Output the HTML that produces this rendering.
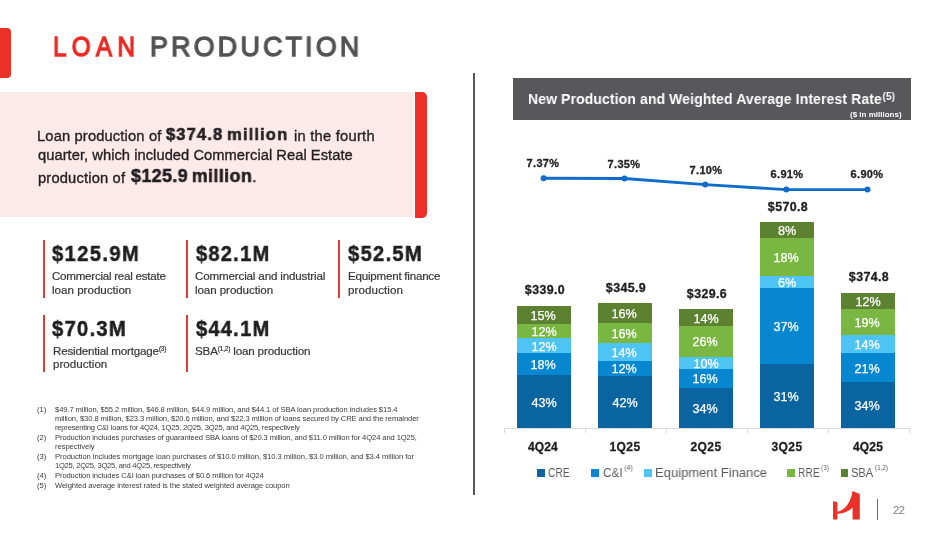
<!DOCTYPE html>
<html><head><meta charset="utf-8"><style>
*{margin:0;padding:0;box-sizing:border-box}
html,body{width:949px;height:534px;overflow:hidden;background:#fff}
body{position:relative;font-family:"Liberation Sans", sans-serif}
.t{position:absolute;line-height:1;white-space:nowrap;will-change:transform}
.r{position:absolute}
sup{font-size:0.55em;vertical-align:0.6em;line-height:0;font-weight:normal}
sup.ls{font-size:0.58em;vertical-align:0.95em;margin-left:2px}
sup.hs{font-size:0.7em;vertical-align:4.5px;margin-left:0.8px;font-weight:bold}
</style></head><body>
<div class="r" style="left:0px;top:27.6px;width:11px;height:50.4px;background:#ea3027;border-radius:0 4px 4px 0;"></div>
<div class="t" id="t_loan" style="left:52.60px;top:32.70px;font-size:28px;color:#ea2a23;font-weight:normal;letter-spacing:5.984px;transform:scaleX(0.8700);transform-origin:left top;-webkit-text-stroke:1.3px #ea2a23;">LOAN</div>
<div class="t" id="t_prod" style="left:149.80px;top:32.70px;font-size:28px;color:#535355;font-weight:normal;letter-spacing:3.310px;transform:scaleX(0.9600);transform-origin:left top;-webkit-text-stroke:1.3px #535355;">PRODUCTION</div>
<div class="r" style="left:0px;top:92.2px;width:414.2px;height:124.4px;background:#fce9ea;"></div>
<div class="r" style="left:415.4px;top:92.2px;width:11.4px;height:125.4px;background:#ea3027;border-radius:0 5px 5px 0;"></div>
<div class="t" id="p1a" style="left:37.00px;top:128.76px;font-size:14.7px;color:#231f20;font-weight:normal;letter-spacing:0.154px;-webkit-text-stroke:0.35px #231f20;">Loan production of</div>
<div class="t" id="p1b" style="left:166.00px;top:126.47px;font-size:17.4px;color:#231f20;font-weight:bold;letter-spacing:1.190px;transform:scaleX(0.9500);transform-origin:left top;-webkit-text-stroke:0.6px #231f20;word-spacing:-2px;">$374.8 million</div>
<div class="t" id="p1c" style="left:294.00px;top:128.76px;font-size:14.7px;color:#231f20;font-weight:normal;letter-spacing:0.250px;-webkit-text-stroke:0.35px #231f20;">in the fourth</div>
<div class="t" id="p2" style="left:38.00px;top:148.26px;font-size:14.7px;color:#231f20;font-weight:normal;letter-spacing:0.046px;-webkit-text-stroke:0.35px #231f20;">quarter, which included Commercial Real Estate</div>
<div class="t" id="p3a" style="left:38.00px;top:170.76px;font-size:14.7px;color:#231f20;font-weight:normal;letter-spacing:0.173px;-webkit-text-stroke:0.35px #231f20;">production of</div>
<div class="t" id="p3b" style="left:131.00px;top:167.33px;font-size:18.75px;color:#231f20;font-weight:bold;letter-spacing:0.477px;transform:scaleX(0.9500);transform-origin:left top;-webkit-text-stroke:0.6px #231f20;word-spacing:-2px;">$125.9 million<span style="font-weight:normal;font-size:14.7px">.</span></div>
<div class="r" style="left:473.4px;top:72.9px;width:1.6px;height:421.7px;background:#585858;"></div>
<div class="r" style="left:43px;top:240.1px;width:1.8px;height:57.5px;background:#e03c36;"></div>
<div class="t" id="s0v" style="left:52.10px;top:243.04px;font-size:22.4px;color:#1e1e1e;font-weight:bold;letter-spacing:1.557px;transform:scaleX(0.9000);transform-origin:left top;-webkit-text-stroke:0.5px #1e1e1e;">$125.9M</div>
<div class="t" id="s0l0" style="left:51.60px;top:269.98px;font-size:11.6px;color:#363636;font-weight:normal;letter-spacing:-0.254px;-webkit-text-stroke:0.2px #363636;">Commercial real estate</div>
<div class="t" id="s0l1" style="left:51.60px;top:283.68px;font-size:11.6px;color:#363636;font-weight:normal;letter-spacing:0.000px;-webkit-text-stroke:0.2px #363636;">loan production</div>
<div class="r" style="left:186.1px;top:240.1px;width:1.8px;height:57.5px;background:#e03c36;"></div>
<div class="t" id="s1v" style="left:195.50px;top:243.04px;font-size:22.4px;color:#1e1e1e;font-weight:bold;letter-spacing:1.333px;transform:scaleX(0.9000);transform-origin:left top;-webkit-text-stroke:0.5px #1e1e1e;">$82.1M</div>
<div class="t" id="s1l0" style="left:195.00px;top:269.98px;font-size:11.6px;color:#363636;font-weight:normal;letter-spacing:-0.157px;-webkit-text-stroke:0.2px #363636;">Commercial and industrial</div>
<div class="t" id="s1l1" style="left:195.00px;top:283.68px;font-size:11.6px;color:#363636;font-weight:normal;letter-spacing:-0.081px;-webkit-text-stroke:0.2px #363636;">loan production</div>
<div class="r" style="left:338.3px;top:240.1px;width:1.8px;height:57.5px;background:#e03c36;"></div>
<div class="t" id="s2v" style="left:347.60px;top:243.04px;font-size:22.4px;color:#1e1e1e;font-weight:bold;letter-spacing:1.423px;transform:scaleX(0.9000);transform-origin:left top;-webkit-text-stroke:0.5px #1e1e1e;">$52.5M</div>
<div class="t" id="s2l0" style="left:347.60px;top:269.98px;font-size:11.6px;color:#363636;font-weight:normal;letter-spacing:-0.228px;-webkit-text-stroke:0.2px #363636;">Equipment finance</div>
<div class="t" id="s2l1" style="left:347.60px;top:283.68px;font-size:11.6px;color:#363636;font-weight:normal;letter-spacing:0.096px;-webkit-text-stroke:0.2px #363636;">production</div>
<div class="r" style="left:43px;top:314.8px;width:1.8px;height:57.5px;background:#e03c36;"></div>
<div class="t" id="s3v" style="left:52.30px;top:317.84px;font-size:22.4px;color:#1e1e1e;font-weight:bold;letter-spacing:1.423px;transform:scaleX(0.9000);transform-origin:left top;-webkit-text-stroke:0.5px #1e1e1e;">$70.3M</div>
<div class="t" id="s3l0" style="left:52.80px;top:344.78px;font-size:11.6px;color:#363636;font-weight:normal;letter-spacing:-0.184px;-webkit-text-stroke:0.2px #363636;">Residential mortgage<sup>(3)</sup></div>
<div class="t" id="s3l1" style="left:52.80px;top:358.48px;font-size:11.6px;color:#363636;font-weight:normal;letter-spacing:0.017px;-webkit-text-stroke:0.2px #363636;">production</div>
<div class="r" style="left:186.1px;top:314.8px;width:1.8px;height:57.5px;background:#e03c36;"></div>
<div class="t" id="s4v" style="left:195.50px;top:317.84px;font-size:22.4px;color:#1e1e1e;font-weight:bold;letter-spacing:1.333px;transform:scaleX(0.9000);transform-origin:left top;-webkit-text-stroke:0.5px #1e1e1e;">$44.1M</div>
<div class="t" id="s4l0" style="left:195.00px;top:344.78px;font-size:11.6px;color:#363636;font-weight:normal;letter-spacing:-0.147px;-webkit-text-stroke:0.2px #363636;">SBA<sup>(1,2)</sup> loan production</div>
<div class="t" id="fnn0" style="left:37.00px;top:406.37px;font-size:7.6px;color:#3a3a3a;font-weight:normal;letter-spacing:0.000px;">(1)</div>
<div class="t" id="fn0" style="left:55.20px;top:406.37px;font-size:7.6px;color:#3a3a3a;font-weight:normal;letter-spacing:-0.086px;">$49.7 million, $55.2 million, $46.8 million, $44.9 million, and $44.1 of SBA loan production includes $15.4</div>
<div class="t" id="fn1" style="left:55.20px;top:415.27px;font-size:7.6px;color:#3a3a3a;font-weight:normal;letter-spacing:-0.087px;">million, $30.8 million, $23.3 million, $20.6 million, and $22.3 million of loans secured by CRE and the remainder</div>
<div class="t" id="fn2" style="left:55.20px;top:424.17px;font-size:7.6px;color:#3a3a3a;font-weight:normal;letter-spacing:-0.201px;">representing C&amp;I loans for 4Q24, 1Q25, 2Q25, 3Q25, and 4Q25, respectively</div>
<div class="t" id="fnn3" style="left:37.00px;top:434.37px;font-size:7.6px;color:#3a3a3a;font-weight:normal;letter-spacing:0.000px;">(2)</div>
<div class="t" id="fn3" style="left:55.20px;top:434.37px;font-size:7.6px;color:#3a3a3a;font-weight:normal;letter-spacing:-0.104px;">Production includes purchases of guaranteed SBA loans of $20.3 million, and $11.0 million for 4Q24 and 1Q25,</div>
<div class="t" id="fn4" style="left:55.20px;top:443.17px;font-size:7.6px;color:#3a3a3a;font-weight:normal;letter-spacing:-0.046px;">respectively</div>
<div class="t" id="fnn5" style="left:37.00px;top:452.87px;font-size:7.6px;color:#3a3a3a;font-weight:normal;letter-spacing:0.000px;">(3)</div>
<div class="t" id="fn5" style="left:55.20px;top:452.87px;font-size:7.6px;color:#3a3a3a;font-weight:normal;letter-spacing:-0.056px;">Production includes mortgage loan purchases of $10.0 million, $10.3 million, $3.0 million, and $3.4 million for</div>
<div class="t" id="fn6" style="left:55.20px;top:462.07px;font-size:7.6px;color:#3a3a3a;font-weight:normal;letter-spacing:-0.264px;">1Q25, 2Q25, 3Q25, and 4Q25, respectively</div>
<div class="t" id="fnn7" style="left:37.00px;top:472.17px;font-size:7.6px;color:#3a3a3a;font-weight:normal;letter-spacing:0.000px;">(4)</div>
<div class="t" id="fn7" style="left:55.20px;top:472.17px;font-size:7.6px;color:#3a3a3a;font-weight:normal;letter-spacing:-0.104px;">Production includes C&amp;I loan purchases of $0.6 million for 4Q24</div>
<div class="t" id="fnn8" style="left:37.00px;top:481.67px;font-size:7.6px;color:#3a3a3a;font-weight:normal;letter-spacing:0.000px;">(5)</div>
<div class="t" id="fn8" style="left:55.20px;top:481.67px;font-size:7.6px;color:#3a3a3a;font-weight:normal;letter-spacing:-0.079px;">Weighted average interest rated is the stated weighted average coupon</div>
<div class="r" style="left:513px;top:77.7px;width:398px;height:42.6px;background:#58585b;"></div>
<div class="t" id="hdr" style="left:527.80px;top:91.40px;font-size:15px;color:#ffffff;font-weight:bold;letter-spacing:0.139px;transform:scaleX(0.9300);transform-origin:left top;">New Production and Weighted Average Interest Rate<sup class="hs">(5)</sup></div>
<div class="t" id="hdr2" style="right:47.00px;top:110.73px;font-size:8px;color:#ffffff;font-weight:bold;letter-spacing:0.000px;">($ in millions)</div>
<div class="r" style="left:516.60px;top:305.79px;width:54px;height:122.21px;background:#5c8130;"></div>
<div class="r" style="left:516.60px;top:323.71px;width:54px;height:104.29px;background:#7ab742;"></div>
<div class="r" style="left:516.60px;top:338.43px;width:54px;height:89.57px;background:#4ec4f4;"></div>
<div class="r" style="left:516.60px;top:353.15px;width:54px;height:74.85px;background:#0787d0;"></div>
<div class="r" style="left:516.60px;top:375.24px;width:54px;height:52.76px;background:#0a649f;"></div>
<div class="t" id="b00" style="left:343.90px;width:400px;text-align:center;top:396.55px;font-size:12.6px;color:#ffffff;font-weight:normal;letter-spacing:0.000px;-webkit-text-stroke:0.25px #fff;">43%</div>
<div class="t" id="b01" style="left:343.40px;width:400px;text-align:center;top:359.13px;font-size:12.6px;color:#ffffff;font-weight:normal;letter-spacing:0.000px;-webkit-text-stroke:0.25px #fff;">18%</div>
<div class="t" id="b02" style="left:343.90px;width:400px;text-align:center;top:340.73px;font-size:12.6px;color:#ffffff;font-weight:normal;letter-spacing:0.000px;-webkit-text-stroke:0.25px #fff;">12%</div>
<div class="t" id="b03" style="left:343.90px;width:400px;text-align:center;top:326.00px;font-size:12.6px;color:#ffffff;font-weight:normal;letter-spacing:0.000px;-webkit-text-stroke:0.25px #fff;">12%</div>
<div class="t" id="b04" style="left:342.90px;width:400px;text-align:center;top:309.68px;font-size:12.6px;color:#ffffff;font-weight:normal;letter-spacing:0.000px;-webkit-text-stroke:0.25px #fff;">15%</div>
<div class="t" id="tot0" style="left:344.70px;width:400px;text-align:center;top:284.29px;font-size:12.4px;color:#1e1e1e;font-weight:bold;letter-spacing:0.400px;-webkit-text-stroke:0.3px #1e1e1e;">$339.0</div>
<div class="t" id="cat0" style="left:343.20px;width:400px;text-align:center;top:440.84px;font-size:12px;color:#1e1e1e;font-weight:bold;letter-spacing:0.130px;-webkit-text-stroke:0.3px #1e1e1e;">4Q24</div>
<div class="r" style="left:597.60px;top:303.30px;width:54px;height:124.70px;background:#5c8130;"></div>
<div class="r" style="left:597.60px;top:323.20px;width:54px;height:104.80px;background:#7ab742;"></div>
<div class="r" style="left:597.60px;top:343.16px;width:54px;height:84.84px;background:#4ec4f4;"></div>
<div class="r" style="left:597.60px;top:360.63px;width:54px;height:67.37px;background:#0787d0;"></div>
<div class="r" style="left:597.60px;top:375.60px;width:54px;height:52.40px;background:#0a649f;"></div>
<div class="t" id="b10" style="left:424.90px;width:400px;text-align:center;top:396.73px;font-size:12.6px;color:#ffffff;font-weight:normal;letter-spacing:0.000px;-webkit-text-stroke:0.25px #fff;">42%</div>
<div class="t" id="b11" style="left:424.40px;width:400px;text-align:center;top:363.05px;font-size:12.6px;color:#ffffff;font-weight:normal;letter-spacing:0.000px;-webkit-text-stroke:0.25px #fff;">12%</div>
<div class="t" id="b12" style="left:424.40px;width:400px;text-align:center;top:346.83px;font-size:12.6px;color:#ffffff;font-weight:normal;letter-spacing:0.000px;-webkit-text-stroke:0.25px #fff;">14%</div>
<div class="t" id="b13" style="left:423.90px;width:400px;text-align:center;top:328.12px;font-size:12.6px;color:#ffffff;font-weight:normal;letter-spacing:0.000px;-webkit-text-stroke:0.25px #fff;">16%</div>
<div class="t" id="b14" style="left:423.90px;width:400px;text-align:center;top:308.19px;font-size:12.6px;color:#ffffff;font-weight:normal;letter-spacing:0.000px;-webkit-text-stroke:0.25px #fff;">16%</div>
<div class="t" id="tot1" style="left:425.70px;width:400px;text-align:center;top:281.81px;font-size:12.4px;color:#1e1e1e;font-weight:bold;letter-spacing:0.400px;-webkit-text-stroke:0.3px #1e1e1e;">$345.9</div>
<div class="t" id="cat1" style="left:424.70px;width:400px;text-align:center;top:440.84px;font-size:12px;color:#1e1e1e;font-weight:bold;letter-spacing:0.464px;-webkit-text-stroke:0.3px #1e1e1e;">1Q25</div>
<div class="r" style="left:678.60px;top:309.18px;width:54px;height:118.82px;background:#5c8130;"></div>
<div class="r" style="left:678.60px;top:326.05px;width:54px;height:101.95px;background:#7ab742;"></div>
<div class="r" style="left:678.60px;top:356.87px;width:54px;height:71.13px;background:#4ec4f4;"></div>
<div class="r" style="left:678.60px;top:368.73px;width:54px;height:59.27px;background:#0787d0;"></div>
<div class="r" style="left:678.60px;top:387.69px;width:54px;height:40.31px;background:#0a649f;"></div>
<div class="t" id="b20" style="left:504.90px;width:400px;text-align:center;top:402.78px;font-size:12.6px;color:#ffffff;font-weight:normal;letter-spacing:0.000px;-webkit-text-stroke:0.25px #fff;">34%</div>
<div class="t" id="b21" style="left:505.40px;width:400px;text-align:center;top:373.14px;font-size:12.6px;color:#ffffff;font-weight:normal;letter-spacing:0.000px;-webkit-text-stroke:0.25px #fff;">16%</div>
<div class="t" id="b22" style="left:505.90px;width:400px;text-align:center;top:357.73px;font-size:12.6px;color:#ffffff;font-weight:normal;letter-spacing:0.000px;-webkit-text-stroke:0.25px #fff;">10%</div>
<div class="t" id="b23" style="left:504.90px;width:400px;text-align:center;top:336.40px;font-size:12.6px;color:#ffffff;font-weight:normal;letter-spacing:0.000px;-webkit-text-stroke:0.25px #fff;">26%</div>
<div class="t" id="b24" style="left:505.90px;width:400px;text-align:center;top:312.55px;font-size:12.6px;color:#ffffff;font-weight:normal;letter-spacing:0.000px;-webkit-text-stroke:0.25px #fff;">14%</div>
<div class="t" id="tot2" style="left:506.70px;width:400px;text-align:center;top:287.68px;font-size:12.4px;color:#1e1e1e;font-weight:bold;letter-spacing:0.400px;-webkit-text-stroke:0.3px #1e1e1e;">$329.6</div>
<div class="t" id="cat2" style="left:505.70px;width:400px;text-align:center;top:440.84px;font-size:12px;color:#1e1e1e;font-weight:bold;letter-spacing:0.466px;-webkit-text-stroke:0.3px #1e1e1e;">2Q25</div>
<div class="r" style="left:759.60px;top:222.23px;width:54px;height:205.77px;background:#5c8130;"></div>
<div class="r" style="left:759.60px;top:238.41px;width:54px;height:189.59px;background:#7ab742;"></div>
<div class="r" style="left:759.60px;top:275.51px;width:54px;height:152.49px;background:#4ec4f4;"></div>
<div class="r" style="left:759.60px;top:287.87px;width:54px;height:140.13px;background:#0787d0;"></div>
<div class="r" style="left:759.60px;top:364.12px;width:54px;height:63.88px;background:#0a649f;"></div>
<div class="t" id="b30" style="left:585.90px;width:400px;text-align:center;top:390.99px;font-size:12.6px;color:#ffffff;font-weight:normal;letter-spacing:0.000px;-webkit-text-stroke:0.25px #fff;">31%</div>
<div class="t" id="b31" style="left:585.90px;width:400px;text-align:center;top:320.93px;font-size:12.6px;color:#ffffff;font-weight:normal;letter-spacing:0.000px;-webkit-text-stroke:0.25px #fff;">37%</div>
<div class="t" id="b32" style="left:586.90px;width:400px;text-align:center;top:276.62px;font-size:12.6px;color:#ffffff;font-weight:normal;letter-spacing:0.000px;-webkit-text-stroke:0.25px #fff;">6%</div>
<div class="t" id="b33" style="left:585.90px;width:400px;text-align:center;top:251.89px;font-size:12.6px;color:#ffffff;font-weight:normal;letter-spacing:0.000px;-webkit-text-stroke:0.25px #fff;">18%</div>
<div class="t" id="b34" style="left:586.90px;width:400px;text-align:center;top:225.25px;font-size:12.6px;color:#ffffff;font-weight:normal;letter-spacing:0.000px;-webkit-text-stroke:0.25px #fff;">8%</div>
<div class="t" id="tot3" style="left:587.70px;width:400px;text-align:center;top:200.73px;font-size:12.4px;color:#1e1e1e;font-weight:bold;letter-spacing:0.400px;-webkit-text-stroke:0.3px #1e1e1e;">$570.8</div>
<div class="t" id="cat3" style="left:586.70px;width:400px;text-align:center;top:440.84px;font-size:12px;color:#1e1e1e;font-weight:bold;letter-spacing:0.464px;-webkit-text-stroke:0.3px #1e1e1e;">3Q25</div>
<div class="r" style="left:840.60px;top:292.88px;width:54px;height:135.12px;background:#5c8130;"></div>
<div class="r" style="left:840.60px;top:308.78px;width:54px;height:119.22px;background:#7ab742;"></div>
<div class="r" style="left:840.60px;top:334.52px;width:54px;height:93.48px;background:#4ec4f4;"></div>
<div class="r" style="left:840.60px;top:353.49px;width:54px;height:74.51px;background:#0787d0;"></div>
<div class="r" style="left:840.60px;top:381.94px;width:54px;height:46.06px;background:#0a649f;"></div>
<div class="t" id="b40" style="left:666.90px;width:400px;text-align:center;top:399.90px;font-size:12.6px;color:#ffffff;font-weight:normal;letter-spacing:0.000px;-webkit-text-stroke:0.25px #fff;">34%</div>
<div class="t" id="b41" style="left:666.90px;width:400px;text-align:center;top:362.65px;font-size:12.6px;color:#ffffff;font-weight:normal;letter-spacing:0.000px;-webkit-text-stroke:0.25px #fff;">21%</div>
<div class="t" id="b42" style="left:667.40px;width:400px;text-align:center;top:338.94px;font-size:12.6px;color:#ffffff;font-weight:normal;letter-spacing:0.000px;-webkit-text-stroke:0.25px #fff;">14%</div>
<div class="t" id="b43" style="left:666.90px;width:400px;text-align:center;top:316.59px;font-size:12.6px;color:#ffffff;font-weight:normal;letter-spacing:0.000px;-webkit-text-stroke:0.25px #fff;">19%</div>
<div class="t" id="b44" style="left:667.90px;width:400px;text-align:center;top:295.77px;font-size:12.6px;color:#ffffff;font-weight:normal;letter-spacing:0.000px;-webkit-text-stroke:0.25px #fff;">12%</div>
<div class="t" id="tot4" style="left:668.70px;width:400px;text-align:center;top:271.39px;font-size:12.4px;color:#1e1e1e;font-weight:bold;letter-spacing:0.400px;-webkit-text-stroke:0.3px #1e1e1e;">$374.8</div>
<div class="t" id="cat4" style="left:668.20px;width:400px;text-align:center;top:440.84px;font-size:12px;color:#1e1e1e;font-weight:bold;letter-spacing:0.133px;-webkit-text-stroke:0.3px #1e1e1e;">4Q25</div>
<div class="r" style="left:503.6px;top:427.8px;width:405px;height:1px;background:#d9d9d9;"></div>
<div class="r" style="left:503.6px;top:428px;width:1px;height:4.7px;background:#d9d9d9;"></div>
<div class="r" style="left:584.6px;top:428px;width:1px;height:4.7px;background:#d9d9d9;"></div>
<div class="r" style="left:665.6px;top:428px;width:1px;height:4.7px;background:#d9d9d9;"></div>
<div class="r" style="left:746.6px;top:428px;width:1px;height:4.7px;background:#d9d9d9;"></div>
<div class="r" style="left:827.6px;top:428px;width:1px;height:4.7px;background:#d9d9d9;"></div>
<div class="r" style="left:908.6px;top:428px;width:1px;height:4.7px;background:#d9d9d9;"></div>
<svg class="r" style="left:0;top:0" width="949" height="534" viewBox="0 0 949 534"><polyline fill="none" stroke="#0f6cca" stroke-width="2.9" points="543.6,178.2 624.5,178.5 705.2,184.6 786.3,189.6 867.5,189.6"/><circle cx="543.6" cy="178.2" r="3" fill="#0f6cca"/><circle cx="624.5" cy="178.5" r="3" fill="#0f6cca"/><circle cx="705.2" cy="184.6" r="3" fill="#0f6cca"/><circle cx="786.3" cy="189.6" r="3" fill="#0f6cca"/><circle cx="867.5" cy="189.6" r="3" fill="#0f6cca"/></svg>
<div class="t" id="lab0" style="left:343.30px;width:400px;text-align:center;top:158.39px;font-size:11px;color:#1e1e1e;font-weight:bold;letter-spacing:0.350px;-webkit-text-stroke:0.3px #1e1e1e;">7.37%</div>
<div class="t" id="lab1" style="left:424.25px;width:400px;text-align:center;top:158.79px;font-size:11px;color:#1e1e1e;font-weight:bold;letter-spacing:0.350px;-webkit-text-stroke:0.3px #1e1e1e;">7.35%</div>
<div class="t" id="lab2" style="left:505.70px;width:400px;text-align:center;top:164.99px;font-size:11px;color:#1e1e1e;font-weight:bold;letter-spacing:0.350px;-webkit-text-stroke:0.3px #1e1e1e;">7.10%</div>
<div class="t" id="lab3" style="left:586.55px;width:400px;text-align:center;top:169.49px;font-size:11px;color:#1e1e1e;font-weight:bold;letter-spacing:0.350px;-webkit-text-stroke:0.3px #1e1e1e;">6.91%</div>
<div class="t" id="lab4" style="left:667.30px;width:400px;text-align:center;top:169.49px;font-size:11px;color:#1e1e1e;font-weight:bold;letter-spacing:0.350px;-webkit-text-stroke:0.3px #1e1e1e;">6.90%</div>
<div class="r" style="left:537.4px;top:469.3px;width:7.8px;height:7.8px;background:#0a649f;"></div>
<div class="t" id="lg0" style="left:548.00px;top:466.13px;font-size:13.2px;color:#595959;font-weight:normal;letter-spacing:0.000px;transform:scaleX(0.7794);transform-origin:left top;">CRE</div>
<div class="r" style="left:591.1px;top:469.3px;width:7.8px;height:7.8px;background:#0787d0;"></div>
<div class="t" id="lg1" style="left:602.80px;top:466.13px;font-size:13.2px;color:#595959;font-weight:normal;letter-spacing:0.000px;transform:scaleX(0.8893);transform-origin:left top;">C&amp;I<sup class="ls">(4)</sup></div>
<div class="r" style="left:643.8px;top:469.3px;width:7.8px;height:7.8px;background:#4ec4f4;"></div>
<div class="t" id="lg2" style="left:655.00px;top:466.13px;font-size:13.2px;color:#595959;font-weight:normal;letter-spacing:0.000px;transform:scaleX(0.9855);transform-origin:left top;">Equipment Finance</div>
<div class="r" style="left:787px;top:469.3px;width:7.8px;height:7.8px;background:#7ab742;"></div>
<div class="t" id="lg3" style="left:798.00px;top:466.13px;font-size:13.2px;color:#595959;font-weight:normal;letter-spacing:0.000px;transform:scaleX(0.7822);transform-origin:left top;">RRE<sup class="ls">(3)</sup></div>
<div class="r" style="left:840.5px;top:469.3px;width:7.8px;height:7.8px;background:#5c8130;"></div>
<div class="t" id="lg4" style="left:850.80px;top:466.13px;font-size:13.2px;color:#595959;font-weight:normal;letter-spacing:0.000px;transform:scaleX(0.8402);transform-origin:left top;">SBA<sup class="ls">(1,2)</sup></div>
<svg class="r" style="left:828px;top:488px" width="38" height="36" viewBox="0 0 564 534"><path fill="#ea3027" d="M75,193 L140,210 L140,350 C220,340 330,260 365,45 L472,90 L472,468 L365,468 L365,290 C300,350 220,385 140,382 L140,468 L75,468 Z"/></svg>
<div class="r" style="left:876.9px;top:498.5px;width:1.6px;height:21.3px;background:#ea3027;"></div>
<div class="t" id="pg" style="left:893.20px;top:505.02px;font-size:11.2px;color:#7f7f7f;font-weight:normal;letter-spacing:-0.500px;">22</div>
</body></html>
